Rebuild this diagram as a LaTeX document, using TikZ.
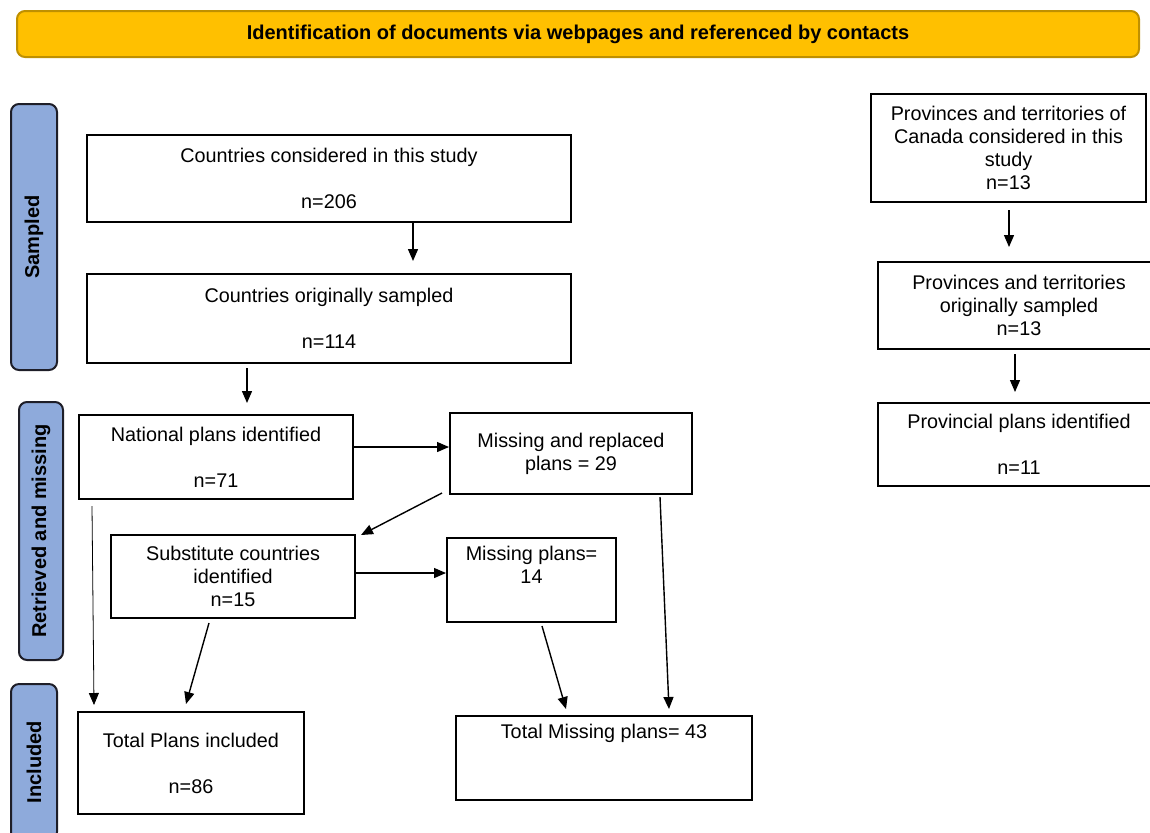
\documentclass[tikz,border=0pt]{standalone}
\usepackage{fontspec}
\setmainfont{Liberation Sans}
\usepackage{tikz}
\usetikzlibrary{arrows.meta,positioning,calc}
\definecolor{gold}{RGB}{255,192,0}
\definecolor{darkgold}{RGB}{191,144,0}
\definecolor{paleblue}{RGB}{142,170,219}
\definecolor{nearblack}{RGB}{30,30,40}

\tikzset{
  box/.style={draw,line width=1pt,inner sep=0pt,align=center,font=\fontsize{9.9}{11.5}\selectfont},
  phase/.style={draw=nearblack,fill=paleblue,line width=1pt,rounded corners=4pt,
    inner sep=0pt,rotate=90,font=\bfseries},
  arr/.style={-{Triangle[length=6pt,width=5pt]},line width=0.7pt},
  thinarr/.style={-{Triangle[length=6pt,width=5pt]},line width=0.4pt}
}

\begin{document}
\begin{tikzpicture}[x=0.5pt,y=-0.5pt,font=\fontsize{9}{11.5}\selectfont]
\useasboundingbox (0,0) rectangle (1150,832);

\node[draw=darkgold,fill=gold,line width=1pt,rounded corners=4pt,inner sep=0pt,
  minimum width=561pt,minimum height=23pt,font=\bfseries] (head) at (578,34)
  {Identification of documents via webpages and referenced by contacts};

\node[phase,minimum width=133pt,minimum height=23pt] (sampled) at (34,237) {Sampled};
\node[phase,minimum width=129pt,minimum height=22pt] (retr) at (41,531) {Retrieved and missing};
\node[phase,minimum width=78pt,minimum height=23pt] (incl) at (34,762) {Included};

\node[box,minimum width=242pt,minimum height=43.5pt] (considered) at (329,178.5)
  {Countries considered in this study\\[11.5pt]n=206};
\node[box,minimum width=242pt,minimum height=44.5pt] (orig) at (329,318.5)
  {Countries originally sampled\\[11.5pt]n=114};
\node[box,minimum width=137pt,minimum height=42pt] (national) at (216,457)
  {National plans identified\\[11.5pt]n=71};
\node[box,minimum width=121pt,minimum height=40.5pt] (replaced) at (571,453.5)
  {Missing and replaced\\plans = 29};
\node[box,minimum width=122pt,minimum height=41.5pt] (subst) at (233,576.5)
  {Substitute countries\\identified\\n=15};
\node[box,minimum width=84.5pt,minimum height=42pt] (missing) at (531.5,580)
  {Missing plans=\\14\\\strut};
\node[box,minimum width=113pt,minimum height=51pt] (incltot) at (191,763)
  {Total Plans included\\[11.5pt]n=86};
\node[box,minimum width=148pt,minimum height=42pt] (misstot) at (604,758)
  {Total Missing plans= 43\\\strut\\\strut};

\node[box,minimum width=137.5pt,minimum height=54pt] (provcons) at (1008.5,148)
  {Provinces and territories of\\Canada considered in this\\study\\n=13};
\node[box,minimum width=141pt,minimum height=43.5pt] (provorig) at (1019,305.5)
  {Provinces and territories\\originally sampled\\n=13};
\node[box,minimum width=141pt,minimum height=41.5pt] (provplans) at (1019,444.5)
  {Provincial plans identified\\[11.5pt]n=11};

\draw[arr] ($(considered.south)+(84,0)$) -- ($(orig.north)+(84,-12)$);
\draw[arr] ($(orig.south)+(-82,4)$) -- ($(national.north)+(31,-11)$);
\draw[arr] ([yshift=5pt]national.east) -- ([yshift=5pt]national.east -| replaced.west);
\draw[arr] ($(replaced.south west)+(-7,-2)$) -- ($(subst.north east)+(5,1)$);
\draw[arr] ([yshift=1.75pt]subst.east) -- ([yshift=1.75pt]subst.east -| missing.west);
\draw[thinarr] ($(national.south west)+(14,6)$) -- ($(incltot.north west)+(17,-6)$);
\draw[arr] ($(subst.south)+(-24,4)$) -- ($(incltot.north)+(-5,-7)$);
\draw[arr] ($(missing.south)+(10.5,3)$) -- ($(misstot.north)+(-38,-6)$);
\draw[arr] ($(replaced.south)+(89,2)$) -- ($(misstot.north)+(65,-6)$);

\draw[arr] ($(provcons.south)+(0.5,7)$) -- ($(provorig.north)+(-10,-14)$);
\draw[arr] ($(provorig.south)+(-4,4)$) -- ($(provplans.north)+(-4,-10)$);
\end{tikzpicture}
\end{document}
